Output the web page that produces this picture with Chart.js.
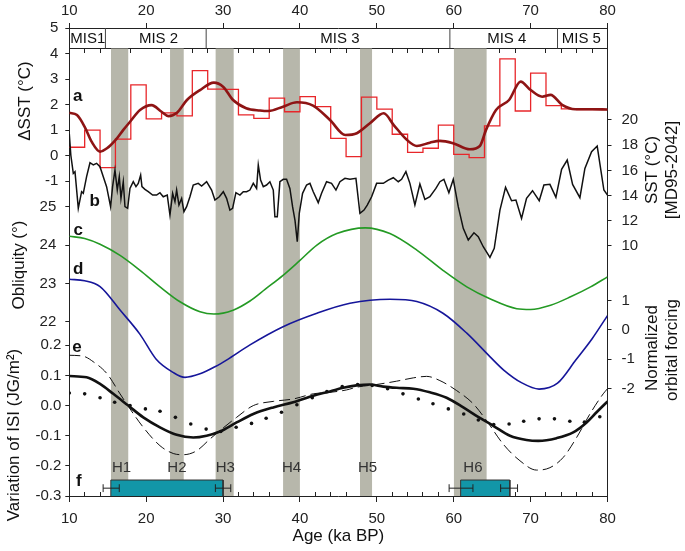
<!DOCTYPE html>
<html>
<head>
<meta charset="utf-8">
<script src="https://cdn.jsdelivr.net/npm/chart.js"></script>
<style>
html,body{margin:0;padding:0;background:#fff;}
#c{display:block;}
</style>
</head>
<body>
<canvas id="c" width="685" height="551"></canvas>
<script>
// ---------------- DATA ----------------
const ageTicks = [10, 20, 30, 40, 50, 60, 70, 80];
const minorAgeTicks = [12, 14, 16, 18, 22, 24, 26, 28, 32, 34, 36, 38, 42, 44, 46, 48, 52, 54, 56, 58, 62, 64, 66, 68, 72, 74, 76, 78];
const dsstTicks = [5, 4, 3, 2, 1, 0, -1];
const oblTicks = [25, 24, 23, 22];
const isiTicks = [0.2, 0.1, 0.0, -0.1, -0.2, -0.3];
const sstTicks = [20, 18, 16, 14, 12, 10];
const normTicks = [1, 0, -1, -2];

// Marine isotope stages
const misNames = ['MIS1', 'MIS 2', 'MIS 3', 'MIS 4', 'MIS 5'];
const misLabelAge = [12.4, 21.6, 45.2, 66.9, 76.6];
const misBounds = [14.7, 27.8, 59.5, 73.5];
const misBoxBottom = 4.2;      // ΔSST level of the MIS strip lower edge
const misLabelLevel = 4.57;

// Heinrich events
const hNames = ['H1', 'H2', 'H3', 'H4', 'H5', 'H6'];
const hStart = [15.4, 23.1, 29.0, 37.8, 47.8, 60.0];
const hEnd = [17.7, 24.9, 31.4, 40.0, 49.4, 64.3];
const hLabelAge = [16.8, 24.0, 30.3, 38.9, 48.8, 62.5];
const hLabelLevel = -0.206;

// a: ΔSST step record (value held from each age to the next)
const stepAge = [10, 12, 14, 16, 18, 20, 22, 24, 26, 28, 30, 32, 34, 36, 38, 40, 42, 44, 46, 48, 50, 52, 54, 56, 58, 60, 62, 64, 66, 68, 70, 72, 74, 76, 78, 80];
const stepDSST = [0.33, 1.0, -0.47, 0.65, 2.77, 1.44, 1.68, 1.56, 3.33, 2.61, 2.6, 1.6, 1.46, 2.25, 1.72, 2.31, 1.92, 0.68, -0.04, 2.29, 1.82, 0.84, 0.13, 0.29, 1.2, 0.05, -0.08, 1.17, 3.79, 1.75, 3.23, 1.96, 1.83, 1.8, 1.8, 1.8];

// a: smoothed ΔSST
const smoothAge = [10, 11, 12, 12.9, 14, 14.9, 16, 17, 17.9, 19.2, 20.7, 22, 22.9, 24, 25.3, 27, 28.8, 30, 31.3, 33, 34.8, 35.9, 37.8, 39.6, 41.7, 43.9, 45.9, 47.4, 49.1, 50.9, 52.2, 53.9, 55.2, 56.9, 58.2, 59.9, 62.1, 63.4, 64.2, 65.5, 67.2, 68.7, 70, 71.5, 72.6, 74.1, 75.8, 78, 80];
const smoothDSST = [1.68, 1.59, 1.13, 0.55, 0.16, 0.29, 0.61, 1.0, 1.33, 1.79, 1.98, 1.72, 1.55, 1.68, 2.18, 2.57, 2.86, 2.7, 2.18, 1.86, 1.77, 1.75, 1.92, 2.09, 1.96, 1.4, 0.81, 0.88, 1.27, 1.66, 1.2, 0.62, 0.38, 0.51, 0.58, 0.49, 0.25, 0.38, 1.01, 1.79, 2.18, 2.9, 2.57, 2.31, 2.38, 1.99, 1.82, 1.82, 1.81];

// b: SST MD95-2042
const sstAge = [10.0, 10.2, 10.52, 10.74, 11.17, 11.6, 11.82, 12.25, 12.69, 13.12, 13.55, 13.99, 14.42, 14.85, 15.37, 15.63, 15.94, 16.24, 16.5, 16.72, 17.02, 17.24, 17.59, 17.89, 18.32, 18.67, 18.97, 19.28, 19.45, 19.84, 20.27, 20.84, 21.36, 21.79, 22.22, 22.74, 23.09, 23.44, 23.74, 23.96, 24.26, 24.61, 24.91, 25.26, 25.69, 26.12, 26.77, 27.21, 27.86, 28.51, 28.94, 29.51, 30.03, 30.46, 30.89, 31.24, 31.67, 32.19, 32.63, 33.06, 33.49, 33.93, 34.36, 34.58, 34.88, 35.23, 35.66, 36.09, 36.53, 36.74, 37.05, 37.39, 37.83, 38.26, 38.69, 39.04, 39.35, 39.65, 39.91, 40.34, 40.86, 41.3, 41.73, 42.38, 42.81, 43.46, 44.11, 44.68, 45.2, 45.85, 46.5, 47.28, 47.8, 48.33, 48.75, 49.32, 49.97, 50.84, 51.49, 52.14, 52.79, 53.22, 53.78, 54.3, 54.95, 55.6, 56.25, 56.9, 57.68, 58.2, 58.72, 59.37, 59.94, 60.59, 61.24, 61.89, 62.63, 63.19, 63.84, 64.71, 65.27, 66.01, 66.74, 67.52, 68.09, 68.82, 69.47, 70.25, 71.12, 71.73, 72.51, 73.29, 74.03, 74.76, 75.46, 76.41, 77.06, 77.93, 78.66, 79.53, 80.0];
const sstVal = [18.9, 17.2, 15.76, 15.9, 12.99, 14.31, 14.18, 15.5, 16.61, 16.43, 16.56, 16.29, 15.5, 14.71, 13.12, 14.71, 16.03, 14.44, 15.5, 13.78, 15.1, 13.12, 12.99, 14.57, 15.1, 14.71, 14.97, 15.63, 14.71, 14.49, 14.31, 14.04, 14.04, 14.23, 13.91, 14.04, 12.46, 14.18, 13.52, 14.44, 13.25, 13.78, 12.72, 13.12, 13.91, 14.84, 14.97, 14.76, 15.1, 14.44, 13.65, 13.91, 14.31, 13.78, 12.85, 12.99, 14.23, 14.04, 14.31, 14.31, 14.44, 14.97, 14.57, 16.43, 15.23, 14.71, 14.84, 15.1, 14.44, 12.32, 12.32, 15.1, 15.29, 15.29, 14.57, 13.12, 12.06, 10.34, 12.59, 14.18, 14.84, 14.97, 14.31, 13.44, 14.18, 15.1, 14.97, 14.44, 15.1, 15.37, 15.29, 15.37, 12.59, 12.85, 13.25, 13.91, 14.97, 14.97, 15.23, 15.42, 15.1, 15.29, 15.9, 14.97, 13.25, 14.92, 13.7, 13.91, 14.57, 15.1, 15.29, 14.23, 15.29, 13.12, 11.4, 10.47, 11.05, 10.74, 9.94, 9.1, 9.81, 12.85, 14.65, 13.59, 13.65, 12.19, 13.78, 14.39, 13.59, 14.84, 14.89, 13.86, 16.08, 16.82, 14.89, 13.83, 16.16, 17.48, 17.93, 14.44, 14.04];

// c: obliquity
const oblAge = [10, 12, 14, 16.6, 19.2, 21.8, 24.4, 27, 28.8, 31.3, 33.5, 35.5, 37.8, 40, 42.2, 44.8, 48.5, 51.7, 55.2, 58.6, 61.7, 64.7, 68.2, 70, 72.6, 75.2, 77.8, 80];
const oblVal = [24.23, 24.17, 24.02, 23.73, 23.34, 22.91, 22.52, 22.26, 22.2, 22.3, 22.54, 22.85, 23.21, 23.6, 24.0, 24.3, 24.45, 24.3, 23.87, 23.34, 22.91, 22.6, 22.34, 22.32, 22.43, 22.65, 22.91, 23.17];

// d: normalized orbital forcing
const normAge = [10, 12, 14, 16.6, 19.2, 21.3, 23.5, 25.05, 27, 29, 30.5, 33.5, 37.8, 42.2, 46.5, 51.7, 55.2, 58.6, 61.7, 64.7, 66.5, 68.8, 71.1, 73.5, 75.9, 78, 80];
const normVal = [1.73, 1.68, 1.48, 0.68, -0.15, -1.0, -1.45, -1.62, -1.5, -1.25, -1.02, -0.51, 0.11, 0.57, 0.91, 1.05, 0.97, 0.57, -0.11, -0.91, -1.37, -1.8, -2.02, -1.82, -1.02, -0.3, 0.49];

// e: variation of ISI (solid, dashed, dotted)
const isiAge = [10, 12.25, 14, 15.72, 17.67, 19.62, 21.79, 23.96, 26.12, 27.86, 29.59, 31.76, 33.93, 36.53, 39.13, 41.73, 43.9, 45.63, 47.37, 49.1, 50.84, 52.57, 54.74, 56.9, 59.07, 61.24, 63.4, 65.14, 67.31, 69.47, 71.0, 73.38, 75.54, 77.28, 78.58, 80];
const isiSolid = [0.098, 0.094, 0.072, 0.039, 0.0, -0.039, -0.072, -0.097, -0.106, -0.1, -0.086, -0.056, -0.028, -0.006, 0.011, 0.033, 0.047, 0.059, 0.067, 0.07, 0.063, 0.059, 0.056, 0.044, 0.026, -0.006, -0.041, -0.067, -0.1, -0.114, -0.117, -0.108, -0.089, -0.056, -0.022, 0.014];
const dashAge = [10, 11.8, 13.2, 14.9, 16.6, 17.45, 19.62, 21.79, 23.52, 24.82, 26.56, 28.29, 29.59, 31.76, 33.93, 36.53, 39.13, 41.73, 43.9, 46.06, 47.37, 49.97, 52.57, 54.74, 56.47, 58.2, 60.37, 62.54, 64.27, 66.44, 68.61, 70.77, 72.51, 74.24, 75.98, 77.71, 79.44, 80];
const isiDashed = [0.167, 0.164, 0.144, 0.106, 0.039, 0.006, -0.072, -0.133, -0.159, -0.163, -0.15, -0.111, -0.083, -0.039, 0.0, 0.014, 0.022, 0.039, 0.044, 0.052, 0.061, 0.07, 0.081, 0.092, 0.097, 0.083, 0.05, 0.006, -0.05, -0.128, -0.183, -0.214, -0.206, -0.172, -0.106, -0.028, 0.039, 0.056];
const dotAge = [10.0, 12.0, 14.0, 15.9, 17.9, 19.9, 21.8, 23.8, 25.8, 27.8, 29.7, 31.7, 33.7, 35.6, 37.6, 39.6, 41.6, 43.5, 45.5, 47.5, 49.4, 51.4, 53.4, 55.4, 57.3, 59.3, 61.3, 63.2, 65.2, 67.2, 69.1, 71.1, 73.1, 75.1, 77.0, 79.0];
const isiDotted = [0.042, 0.039, 0.026, 0.011, 0.0, -0.011, -0.019, -0.039, -0.061, -0.078, -0.086, -0.072, -0.059, -0.042, -0.022, 0.003, 0.026, 0.047, 0.063, 0.07, 0.067, 0.056, 0.039, 0.022, 0.006, -0.011, -0.028, -0.048, -0.063, -0.061, -0.052, -0.044, -0.044, -0.052, -0.055, -0.037];

// f: age windows with errors
const fStart = [15.4, 60.9];
const fEnd = [30.0, 67.3];
const fTop = -0.247;
const fBase = -0.3;
const fErrLevel = -0.274;
const fErrCap = 0.013;
const fStartErr = [[14.4, 16.5], [59.4, 62.5]];
const fEndErr = [[29.0, 31.0], [66.1, 68.3]];

// ---------------- BUILD ----------------
const FONT = '"Liberation Sans", Arial, Helvetica, sans-serif';
const AX = '#222';
Chart.defaults.font.family = FONT;
Chart.defaults.color = '#222';

const pts = (xs, ys) => xs.map((x, i) => ({x: x, y: ys[i]}));

const datasets = [];
// Heinrich bands (on a full-height ΔSST-scaled helper axis)
hStart.forEach((s, i) => {
  datasets.push({
    data: [{x: s, y: misBoxBottom}, {x: hEnd[i], y: misBoxBottom}],
    yAxisID: 'yBand', xAxisID: 'x', borderWidth: 0, pointRadius: 0,
    backgroundColor: '#b7b7ab', fill: 'start', order: 50
  });
});
// f bars
fStart.forEach((s, i) => {
  datasets.push({
    data: [{x: s, y: fBase}, {x: s, y: fTop}, {x: fEnd[i], y: fTop}, {x: fEnd[i], y: fBase}],
    yAxisID: 'yI', xAxisID: 'x', borderWidth: 1, borderColor: '#333', pointRadius: 0,
    backgroundColor: '#1296a8', fill: {value: fBase}, order: 40
  });
});
// f error bars
const errData = [];
[...fStartErr, ...fEndErr].forEach(e => {
  errData.push({x: e[0], y: fErrLevel}, {x: e[1], y: fErrLevel}, {x: e[1], y: null});
  errData.push({x: e[0], y: fErrLevel - fErrCap}, {x: e[0], y: fErrLevel + fErrCap}, {x: e[0], y: null});
  errData.push({x: e[1], y: fErrLevel - fErrCap}, {x: e[1], y: fErrLevel + fErrCap}, {x: e[1], y: null});
});
datasets.push({data: errData, yAxisID: 'yI', xAxisID: 'x', borderColor: '#222', borderWidth: 1, pointRadius: 0, spanGaps: false, fill: false, order: 3});
// MIS dividers
const misData = [];
misBounds.forEach(b => { misData.push({x: b, y: misBoxBottom}, {x: b, y: 5}, {x: b, y: null}); });
datasets.push({data: misData, yAxisID: 'yD', xAxisID: 'x', borderColor: '#444', borderWidth: 1, pointRadius: 0, spanGaps: false, fill: false, order: 2});
// a step
datasets.push({data: pts(stepAge, stepDSST), yAxisID: 'yD', xAxisID: 'x', stepped: 'before', borderColor: '#e8262a', borderWidth: 1.3, pointRadius: 0, fill: false, order: 12});
// a smooth
datasets.push({data: pts(smoothAge, smoothDSST), yAxisID: 'yD', xAxisID: 'x', borderColor: '#8e1414', borderWidth: 2.6, pointRadius: 0, cubicInterpolationMode: 'monotone', fill: false, order: 11});
// b SST
datasets.push({data: pts(sstAge, sstVal), yAxisID: 'yS', xAxisID: 'x', borderColor: '#111', borderWidth: 1.5, pointRadius: 0, fill: false, order: 10});
// c obliquity
datasets.push({data: pts(oblAge, oblVal), yAxisID: 'yO', xAxisID: 'x', borderColor: '#249a24', borderWidth: 1.6, pointRadius: 0, cubicInterpolationMode: 'monotone', fill: false, order: 9});
// d normalized forcing
datasets.push({data: pts(normAge, normVal), yAxisID: 'yN', xAxisID: 'x', borderColor: '#16169a', borderWidth: 1.6, pointRadius: 0, cubicInterpolationMode: 'monotone', fill: false, order: 8});
// e dashed
datasets.push({data: pts(dashAge, isiDashed), yAxisID: 'yI', xAxisID: 'x', borderColor: '#111', borderWidth: 1, borderDash: [11, 5], pointRadius: 0, cubicInterpolationMode: 'monotone', fill: false, order: 7});
// e solid
datasets.push({data: pts(isiAge, isiSolid), yAxisID: 'yI', xAxisID: 'x', borderColor: '#111', borderWidth: 2.6, pointRadius: 0, cubicInterpolationMode: 'monotone', fill: false, order: 6});
// e dotted
datasets.push({data: pts(dotAge, isiDotted), yAxisID: 'yI', xAxisID: 'x', showLine: false, pointRadius: 1.8, pointBorderWidth: 0, pointBackgroundColor: '#111', fill: false, order: 5});

const setTicks = arr => s => { s.ticks = arr.map(v => ({value: v})); };
const yBase = (pos, ticksArr, fmt, pad, extra) => Object.assign({
  type: 'linear', axis: 'y', position: pos,
  afterBuildTicks: setTicks(ticksArr),
  afterFit: s => { s.width = pos === 'left' ? 69.3 : 77.5; },
  ticks: {autoSkip: false, font: {size: 15}, color: '#222', padding: pad, callback: fmt},
  grid: {drawOnChartArea: false, tickLength: 4, tickColor: AX, tickWidth: 1},
  border: {color: AX, width: 1}
}, extra);
const intFmt = v => String(v);
const oneFmt = v => v.toFixed(1);

const scales = {
  x: {
    type: 'linear', axis: 'x', position: 'bottom', min: 10, max: 80,
    afterBuildTicks: setTicks(ageTicks),
    afterFit: s => { s.height = 55; },
    ticks: {autoSkip: false, maxRotation: 0, padding: 8, font: {size: 15}, color: '#222', callback: intFmt},
    grid: {drawOnChartArea: false, tickLength: 6, tickColor: AX},
    border: {color: AX, width: 1},
    title: {display: true, text: 'Age (ka BP)', font: {size: 17}, color: '#111', padding: {top: 0, bottom: 4}}
  },
  xTop: {
    type: 'linear', axis: 'x', position: 'top', min: 10, max: 80,
    afterBuildTicks: setTicks(ageTicks),
    afterFit: s => { s.height = 28; },
    ticks: {autoSkip: false, maxRotation: 0, padding: 3, font: {size: 15}, color: '#222', callback: intFmt},
    grid: {drawOnChartArea: false, tickLength: 5, tickColor: AX},
    border: {color: AX, width: 1}
  },
  yD: yBase('left', dsstTicks, intFmt, 7, {min: -1.1, max: 5, stack: 'L', stackWeight: 155.8, weight: 3}),
  yO: yBase('left', oblTicks, intFmt, 9, {min: 21.41, max: 25.6, stack: 'L', stackWeight: 160.6, weight: 2}),
  yI: yBase('left', isiTicks, oneFmt, 4, {min: -0.3, max: 0.2033, stack: 'L', stackWeight: 151.7, weight: 1}),
  yS: yBase('right', sstTicks, intFmt, 10, {min: 7.857, max: 27.30, stack: 'R', stackWeight: 245, weight: 1}),
  yN: yBase('right', normTicks, intFmt, 10, {min: -5.673, max: 1.946, stack: 'R', stackWeight: 223, weight: 2}),
  // hidden helper: same ΔSST scaling extended over the whole plot height
  yBand: {type: 'linear', axis: 'y', position: 'left', display: false, min: -13.32, max: 5},
  xMis: {
    type: 'linear', axis: 'x', position: {yD: misBoxBottom}, min: 10, max: 80,
    afterBuildTicks: setTicks(minorAgeTicks),
    ticks: {display: false},
    grid: {drawOnChartArea: false, tickLength: 4, tickColor: AX},
    border: {color: AX, width: 1}
  },
  xMinor: {
    type: 'linear', axis: 'x', position: {yI: fBase}, min: 10, max: 80,
    afterBuildTicks: setTicks(minorAgeTicks),
    ticks: {display: false},
    grid: {drawOnChartArea: false, tickLength: -4, tickColor: AX},
    border: {display: false}
  }
};

function vText(ctx, text, x, y) {
  ctx.save(); ctx.translate(x, y); ctx.rotate(-Math.PI / 2); ctx.fillText(text, 0, 0); ctx.restore();
}

const textPlugin = {
  id: 'texts',
  afterDraw(chart) {
    const {ctx, scales: sc} = chart;
    const X = sc.x;
    ctx.save();
    ctx.textAlign = 'center'; ctx.textBaseline = 'middle';
    ctx.fillStyle = '#111';
    ctx.font = '15px ' + FONT;
    misNames.forEach((t, i) => ctx.fillText(t, X.getPixelForValue(misLabelAge[i]), sc.yD.getPixelForValue(misLabelLevel)));
    ctx.fillStyle = '#333';
    hNames.forEach((t, i) => ctx.fillText(t, X.getPixelForValue(hLabelAge[i]), sc.yI.getPixelForValue(hLabelLevel)));
    ctx.fillStyle = '#111';
    ctx.font = 'bold 17px ' + FONT;
    ctx.fillText('a', X.getPixelForValue(11.1), sc.yD.getPixelForValue(2.31));
    ctx.fillText('b', X.getPixelForValue(13.3), sc.yS.getPixelForValue(13.57));
    ctx.fillText('c', X.getPixelForValue(11.15), sc.yO.getPixelForValue(24.39));
    ctx.fillText('d', X.getPixelForValue(11.15), sc.yO.getPixelForValue(23.36));
    ctx.fillText('e', X.getPixelForValue(11.0), sc.yI.getPixelForValue(0.194));
    ctx.fillText('f', X.getPixelForValue(11.25), sc.yI.getPixelForValue(-0.25));
    ctx.font = '17px ' + FONT;
    ctx.fillStyle = '#111';
    vText(ctx, 'ΔSST (°C)', 25, 101);
    vText(ctx, 'Obliquity (°)', 19, 265);
    vText(ctx, 'Variation of ISI (JG/m²)', 14, 435);
    vText(ctx, 'SST (°C)', 652, 170);
    vText(ctx, '[MD95-2042]', 672, 170);
    vText(ctx, 'Normalized', 652, 348);
    vText(ctx, 'orbital forcing', 672, 350);
    ctx.restore();
  }
};

new Chart(document.getElementById('c'), {
  type: 'line',
  data: {datasets: datasets},
  options: {
    responsive: false, animation: false, events: [],
    devicePixelRatio: 1,
    layout: {padding: 0},
    plugins: {legend: {display: false}, tooltip: {enabled: false}},
    scales: scales
  },
  plugins: [textPlugin]
});
</script>
</body>
</html>
